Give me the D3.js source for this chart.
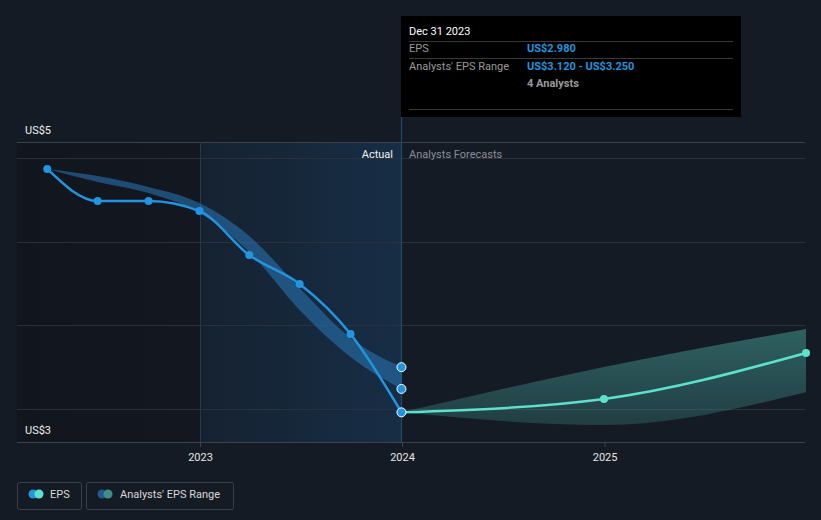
<!DOCTYPE html>
<html>
<head>
<meta charset="utf-8">
<script src="https://cdn.jsdelivr.net/npm/d3@7"></script>
<style>
  html, body { margin: 0; padding: 0; background: #151b25; }
  svg { display: block; font-family: Roboto, "Noto Sans", sans-serif; }
</style>
</head>
<body>
<svg id="chart" width="821" height="520"></svg>
<script>
// ---- Data ----
const pastDates = ["2022-03-31","2022-06-30","2022-09-30","2022-12-31","2023-03-31","2023-06-30","2023-09-30","2023-12-31"];
const pastEPS   = [4.435, 4.243, 4.243, 4.183, 3.92, 3.747, 3.448, 2.98];
const pastRangeLow  = [4.435, 4.357, 4.291, 4.172, 3.938, 3.592, 3.311, 3.12];
const pastRangeHigh = [4.435, 4.393, 4.327, 4.231, 4.034, 3.723, 3.424, 3.25];
const fcDates = ["2023-12-31","2024-12-31","2025-12-31"];
const fcEPS   = [2.98, 3.06, 3.335];
const fcLow   = [2.98, 2.904, 3.10];
const fcHigh  = [2.98, 3.251, 3.478];
const gridValues = [3.0, 3.5, 4.0, 4.5];
const xTicks = ["2023-01-01","2024-01-01","2025-01-01"];
const yLabels = ["US$5", "US$3"];
const tipDate = "Dec 31 2023";
const tipEPS = "US$2.980";
const tipRange = "US$3.120 - US$3.250";
const tipAnalysts = "4 Analysts";

(function () {
const parse = d3.timeParse("%Y-%m-%d");
const svg = d3.select("#chart");
const W = 821, H = 520;
const pL = 17, pR = 805, pT = 142, pB = 442;

const x0 = parse("2023-01-01"), x1 = parse("2024-01-01");
const pxPerMs = (402 - 200) / (x1 - x0);
const x = d3.scaleTime()
  .domain([new Date(+x0 - (200 - pL) / pxPerMs), new Date(+x0 + (pR - 200) / pxPerMs)])
  .range([pL, pR]);

const y = d3.scaleLinear().domain([3.0, 4.5]).range([409, 158]);

svg.append("rect").attr("width", W).attr("height", H).attr("fill", "#151b25");

const defs = svg.append("defs");
const g1 = defs.append("linearGradient").attr("id", "actualGrad").attr("x1", "0").attr("x2", "1");
g1.append("stop").attr("offset", "0").attr("stop-color", "#1d6fb8").attr("stop-opacity", 0.08);
g1.append("stop").attr("offset", "1").attr("stop-color", "#1d6fb8").attr("stop-opacity", 0.22);
const g0 = defs.append("linearGradient").attr("id", "leftGrad").attr("x1", "0").attr("x2", "1");
g0.append("stop").attr("offset", "0").attr("stop-color", "#0e1116").attr("stop-opacity", 0.5);
g0.append("stop").attr("offset", "1").attr("stop-color", "#0e1116").attr("stop-opacity", 0.3);
const g2 = defs.append("linearGradient").attr("id", "fcGrad").attr("x1", "0").attr("x2", "0").attr("y1", "0").attr("y2", "1");
g2.append("stop").attr("offset", "0").attr("stop-color", "#3f8f88").attr("stop-opacity", 0.6);
g2.append("stop").attr("offset", "1").attr("stop-color", "#3f8f88").attr("stop-opacity", 0.3);

svg.append("rect").attr("x", pL).attr("y", pT).attr("width", x(x0) - pL).attr("height", pB - pT).attr("fill", "url(#leftGrad)");
svg.append("rect").attr("x", x(x0)).attr("y", pT).attr("width", x(parse("2023-12-31")) - x(x0)).attr("height", pB - pT).attr("fill", "url(#actualGrad)");

svg.append("g").selectAll("line").data(gridValues).join("line")
  .attr("x1", pL).attr("x2", pR)
  .attr("y1", d => Math.round(y(d)) + 0.5).attr("y2", d => Math.round(y(d)) + 0.5)
  .attr("stroke", "#2a313c").attr("stroke-width", 1);
svg.append("line").attr("x1", pL).attr("x2", pR).attr("y1", pT + 0.5).attr("y2", pT + 0.5).attr("stroke", "#3b424d");

svg.append("line").attr("x1", Math.round(x(x0)) + 0.5).attr("x2", Math.round(x(x0)) + 0.5).attr("y1", pT).attr("y2", pB).attr("stroke", "#1f3a55").attr("stroke-width", 1);
const xNow = Math.round(x(parse("2023-12-31"))) + 0.5;
svg.append("line").attr("x1", xNow).attr("x2", xNow).attr("y1", 117).attr("y2", pB).attr("stroke", "#264a6b").attr("stroke-width", 1.2);

const xAxis = d3.axisBottom(x).tickValues(xTicks.map(parse)).tickFormat(d3.timeFormat("%Y")).tickSize(5).tickPadding(6);
const ax = svg.append("g").attr("transform", `translate(0,${pB})`).call(xAxis);
ax.select(".domain").attr("stroke", "#3d444f").attr("d", `M${pL},0.5H${pR}`);
ax.selectAll(".tick line").attr("stroke", "#3d444f");
ax.selectAll(".tick text").attr("fill", "#e6e6e6").attr("font-size", 11).attr("font-family", "Roboto, sans-serif");

svg.append("text").attr("x", 25).attr("y", 134).attr("fill", "#f0f0f0").attr("font-size", 11).text(yLabels[0]);
svg.append("text").attr("x", 25).attr("y", 434).attr("fill", "#f0f0f0").attr("font-size", 11).text(yLabels[1]);

svg.append("text").attr("x", 393).attr("y", 158).attr("text-anchor", "end").attr("fill", "#f0f0f0").attr("font-size", 11).text("Actual");
svg.append("text").attr("x", 409).attr("y", 158).attr("fill", "#8a8f96").attr("font-size", 11).text("Analysts Forecasts");

const past = pastDates.map((d, i) => ({ d: parse(d), v: pastEPS[i], lo: pastRangeLow[i], hi: pastRangeHigh[i] }));
const fc = fcDates.map((d, i) => ({ d: parse(d), v: fcEPS[i], lo: fcLow[i], hi: fcHigh[i] }));

const area = d3.area().x(d => x(d.d)).y0(d => y(d.lo)).y1(d => y(d.hi)).curve(d3.curveMonotoneX);
svg.append("path").datum(past).attr("d", area).attr("fill", "#2a78b8").attr("fill-opacity", 0.55);
svg.append("path").datum(fc).attr("d", area).attr("fill", "url(#fcGrad)");

const line = d3.line().x(d => x(d.d)).y(d => y(d.v)).curve(d3.curveMonotoneX);
svg.append("path").datum(past).attr("d", line).attr("fill", "none").attr("stroke", "#2394df").attr("stroke-width", 2.5);
svg.append("path").datum(fc).attr("d", line).attr("fill", "none").attr("stroke", "#5ce1cc").attr("stroke-width", 2.5);

svg.append("g").selectAll("circle").data(past.slice(0, past.length - 1)).join("circle")
  .attr("cx", d => x(d.d)).attr("cy", d => y(d.v)).attr("r", 4).attr("fill", "#2394df");
svg.append("g").selectAll("circle").data(fc.slice(1)).join("circle")
  .attr("cx", d => x(d.d)).attr("cy", d => y(d.v)).attr("r", 4).attr("fill", "#5ce1cc");
const last = past[past.length - 1];
svg.append("g").selectAll("circle").data([last.hi, last.lo, last.v]).join("circle")
  .attr("cx", x(last.d)).attr("cy", d => y(d)).attr("r", 4.5)
  .attr("fill", "#2394df").attr("stroke", "#ffffff").attr("stroke-width", 1);

const tip = svg.append("g");
tip.append("rect").attr("x", 401).attr("y", 16).attr("width", 340).attr("height", 101).attr("fill", "#000000");
tip.append("text").attr("x", 409).attr("y", 35).attr("fill", "#ffffff").attr("font-size", 11).text(tipDate);
[41, 58, 109].forEach(yy => tip.append("line").attr("x1", 409).attr("x2", 733).attr("y1", yy + 0.5).attr("y2", yy + 0.5).attr("stroke", "#3a3a3a"));
tip.append("text").attr("x", 409).attr("y", 52).attr("fill", "#9a9a9a").attr("font-size", 11).text("EPS");
tip.append("text").attr("x", 527).attr("y", 52).attr("fill", "#2394df").attr("font-size", 11).attr("font-weight", "bold").text(tipEPS);
tip.append("text").attr("x", 409).attr("y", 70).attr("fill", "#9a9a9a").attr("font-size", 11).text("Analysts' EPS Range");
tip.append("text").attr("x", 527).attr("y", 70).attr("fill", "#2394df").attr("font-size", 11).attr("font-weight", "bold").text(tipRange);
tip.append("text").attr("x", 527).attr("y", 87).attr("fill", "#9a9a9a").attr("font-size", 11).attr("font-weight", "bold").text(tipAnalysts);

const leg = svg.append("g");
leg.append("rect").attr("x", 17.5).attr("y", 482.5).attr("width", 64).attr("height", 27).attr("rx", 2).attr("fill", "none").attr("stroke", "#3b414b");
leg.append("circle").attr("cx", 33).attr("cy", 494).attr("r", 4.5).attr("fill", "#2394df");
leg.append("circle").attr("cx", 39).attr("cy", 494).attr("r", 4.5).attr("fill", "#5ce1cc");
leg.append("text").attr("x", 50).attr("y", 498).attr("fill", "#d8d8d8").attr("font-size", 11).text("EPS");
leg.append("rect").attr("x", 86.5).attr("y", 482.5).attr("width", 147).attr("height", 27).attr("rx", 2).attr("fill", "none").attr("stroke", "#3b414b");
leg.append("circle").attr("cx", 102).attr("cy", 494).attr("r", 4.5).attr("fill", "#1f5a8a");
leg.append("circle").attr("cx", 108).attr("cy", 494).attr("r", 4.5).attr("fill", "#3f8f88");
leg.append("text").attr("x", 120).attr("y", 498).attr("fill", "#d8d8d8").attr("font-size", 11).text("Analysts' EPS Range");
})();
</script>
</body>
</html>
